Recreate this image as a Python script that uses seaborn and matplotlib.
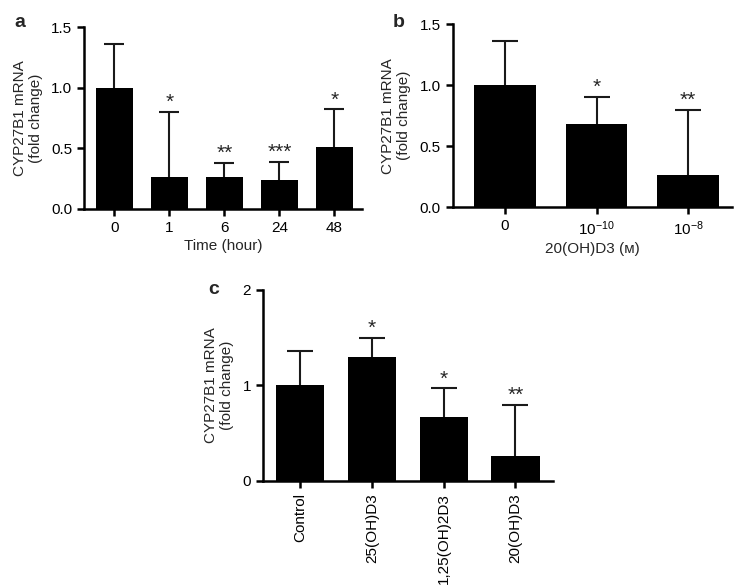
import numpy as np
import pandas as pd
import matplotlib
matplotlib.use("Agg")
import matplotlib.pyplot as plt
import seaborn as sns

sns.set_theme(style="ticks")
plt.rcParams["font.family"] = ["Liberation Sans", "DejaVu Sans"]
plt.rcParams["mathtext.fontset"] = "custom"
plt.rcParams["mathtext.rm"] = "Liberation Sans"
plt.rcParams["mathtext.it"] = "Liberation Sans"

# panel a: time course
time_labels = ["0", "1", "6", "24", "48"]
time_mean = [1.00, 0.26, 0.26, 0.24, 0.51]
time_upper = [1.36, 0.80, 0.38, 0.39, 0.82]
time_stars = ["", "*", "**", "***", "*"]

# panel b: dose
dose_labels = ["0", r"$10^{-10}$", r"$10^{-8}$"]
dose_mean = [1.00, 0.68, 0.26]
dose_upper = [1.36, 0.90, 0.80]
dose_stars = ["", "*", "**"]

# panel c: compounds
cmpd_labels = ["Control", "25(OH)D3", "1,25(OH)2D3", "20(OH)D3"]
cmpd_mean = [1.00, 1.30, 0.67, 0.26]
cmpd_upper = [1.36, 1.50, 0.97, 0.80]
cmpd_stars = ["", "*", "*", "**"]

fig = plt.figure(figsize=(7.41, 5.87), dpi=100)
ax_a = fig.add_axes([0.1134, 0.644, 0.375, 0.310])
ax_b = fig.add_axes([0.611, 0.647, 0.377, 0.312])
ax_c = fig.add_axes([0.355, 0.1806, 0.391, 0.3254])


def bar_panel(ax, labels, mean, upper, stars, ylim, yticks, capsize, star_off, rot=0):
    df = pd.DataFrame({"cond": labels, "val": mean})
    sns.barplot(data=df, x="cond", y="val", color="black", width=0.67,
                saturation=1, edgecolor="black", linewidth=0, ax=ax)
    x = np.arange(len(labels))
    lower = np.zeros(len(mean))
    up = np.array(upper) - np.array(mean)
    _, caps, _ = ax.errorbar(x, mean, yerr=[lower, up], fmt="none", ecolor="#1a1a1a",
                             elinewidth=1.5, capsize=capsize, capthick=1.5, zorder=3)
    # only the upper cap is drawn (one-sided SD)
    caps[0].set_visible(False)
    for xi, top, s in zip(x, upper, stars):
        if s:
            ax.text(xi, top + star_off, s, ha="center", va="bottom", fontsize=15)
    ax.set_ylim(ylim)
    ax.set_yticks(yticks)
    for side in ["top", "right"]:
        ax.spines[side].set_visible(False)
    for side in ["left", "bottom"]:
        ax.spines[side].set_linewidth(1.8)
        ax.spines[side].set_color("black")
    ax.tick_params(axis="both", width=1.8, length=5, labelsize=11, colors="black")
    ax.set_ylabel("CYP27B1 mRNA\n(fold change)", fontsize=11, labelpad=6)
    if rot:
        ax.tick_params(axis="x", labelrotation=rot)


bar_panel(ax_a, time_labels, time_mean, time_upper, time_stars,
          (0, 1.5), [0, 0.5, 1.0, 1.5], 7.5, 0.0)
ax_a.set_xlim(-0.55, 4.5)
ax_a.set_yticklabels(["0.0", "0.5", "1.0", "1.5"])
ax_a.set_xlabel("Time (hour)", fontsize=11, labelpad=3)

bar_panel(ax_b, dose_labels, dose_mean, dose_upper, dose_stars,
          (0, 1.5), [0, 0.5, 1.0, 1.5], 9.5, 0.0)
ax_b.set_xlim(-0.57, 2.48)
ax_b.set_yticklabels(["0.0", "0.5", "1.0", "1.5"])
ax_b.set_xlabel("20(OH)D3 (ᴍ)", fontsize=11, labelpad=3)

bar_panel(ax_c, cmpd_labels, cmpd_mean, cmpd_upper, cmpd_stars,
          (0, 2), [0, 1, 2], 9.5, 0.0, rot=90)
ax_c.set_xlim(-0.515, 3.52)
ax_c.set_xlabel("")

fig.text(0.02, 0.962, "a", fontsize=14, fontweight="bold", va="center")
fig.text(0.530, 0.962, "b", fontsize=14, fontweight="bold", va="center")
fig.text(0.281, 0.507, "c", fontsize=14, fontweight="bold", va="center")

fig.savefig("out.png", dpi=100, facecolor="white")
